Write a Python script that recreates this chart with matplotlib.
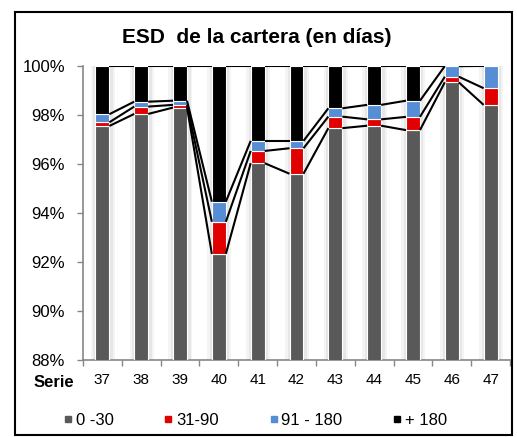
import matplotlib.pyplot as plt
import numpy as np
from matplotlib.lines import Line2D
from matplotlib.patches import Rectangle

plt.rcParams['font.family'] = ['Liberation Sans', 'DejaVu Sans']

series = ['37', '38', '39', '40', '41', '42', '43', '44', '45', '46', '47']
d0_30 = [97.55, 98.04, 98.30, 92.33, 96.03, 95.60, 97.46, 97.56, 97.38, 99.33, 98.41]
d31_90 = [0.15, 0.30, 0.11, 1.31, 0.50, 1.04, 0.47, 0.26, 0.54, 0.23, 0.68]
d91_180 = [0.33, 0.20, 0.17, 0.82, 0.41, 0.30, 0.34, 0.59, 0.66, 0.43, 0.91]
d180 = [1.97, 1.46, 1.42, 5.54, 3.06, 3.06, 1.73, 1.59, 1.42, 0.01, 0.00]

labels = ['0 -30', '31-90', '91 - 180', '+ 180']
colors = ['#595959', '#e00000', '#558ed5', '#000000']

fig = plt.figure(figsize=(5.17, 4.37), dpi=100)
ax = fig.add_axes([0.1605, 0.1762, 0.826, 0.673])

x = np.arange(len(series))
w = 0.36
ymin = 88

# soft shadow behind bars
for xi in x:
    ax.add_patch(Rectangle((xi - w / 2 - 0.12, ymin), w + 0.26, 100 - ymin,
                           color='#f4f4f4', zorder=1, lw=0))
    ax.add_patch(Rectangle((xi - w / 2 - 0.05, ymin), w + 0.14, 100 - ymin,
                           color='#e6e6e6', zorder=1, lw=0))

data = [d0_30, d31_90, d91_180, d180]
bottom = np.zeros(len(series))
tops = []
for vals, c, lab in zip(data, colors, labels):
    vals = np.array(vals)
    ax.bar(x, vals, w, bottom=bottom, color=c, edgecolor='white', linewidth=0.8,
           label=lab, zorder=3)
    bottom = bottom + vals
    tops.append(bottom.copy())

# series lines between bars
for t in tops:
    t = np.clip(t, None, 100)
    for i in range(len(x) - 1):
        ax.plot([x[i] + w / 2, x[i + 1] - w / 2], [t[i], t[i + 1]],
                color='black', lw=1.5, zorder=4, solid_capstyle='butt')

ax.set_xlim(-0.5, len(series) - 0.5)
ax.set_ylim(ymin, 100)
ax.set_yticks(np.arange(88, 101, 2))
ax.set_yticklabels([f'{v}%' for v in range(88, 101, 2)], fontsize=12)
ax.set_xticks(x)
ax.set_xticklabels(series, fontsize=11)
ax.set_xticks(np.arange(-0.5, len(series), 1), minor=True)
ax.tick_params(axis='x', which='major', length=0, pad=9)
ax.tick_params(axis='x', which='minor', length=4, color='#868686', width=1)
ax.tick_params(axis='y', length=4, color='#868686', width=1, pad=9)

for s in ['top', 'right']:
    ax.spines[s].set_visible(False)
for s in ['left', 'bottom']:
    ax.spines[s].set_color('#868686')
    ax.spines[s].set_linewidth(1.2)

fig.text(0.497, 0.915, 'ESD  de la cartera (en días)', ha='center', va='center',
         fontsize=15, fontweight='bold')
fig.text(0.105, 0.124, 'Serie', ha='center', va='center', fontsize=12, fontweight='bold')

handles = [Line2D([], [], marker='s', ls='', color=c, markersize=5) for c in colors]
fig.legend(handles, labels, loc='center', bbox_to_anchor=(0.493, 0.037), ncol=4,
           frameon=False, fontsize=12, handlelength=0.6, handletextpad=0.15,
           columnspacing=3.0)

# chart border
fig.add_artist(Rectangle((15 / 517, 0.004), 497 / 517, 1 - 12 / 437 - 0.004,
                         transform=fig.transFigure, fill=False, ec='black', lw=1.5))

fig.savefig('out.png', dpi=100)
